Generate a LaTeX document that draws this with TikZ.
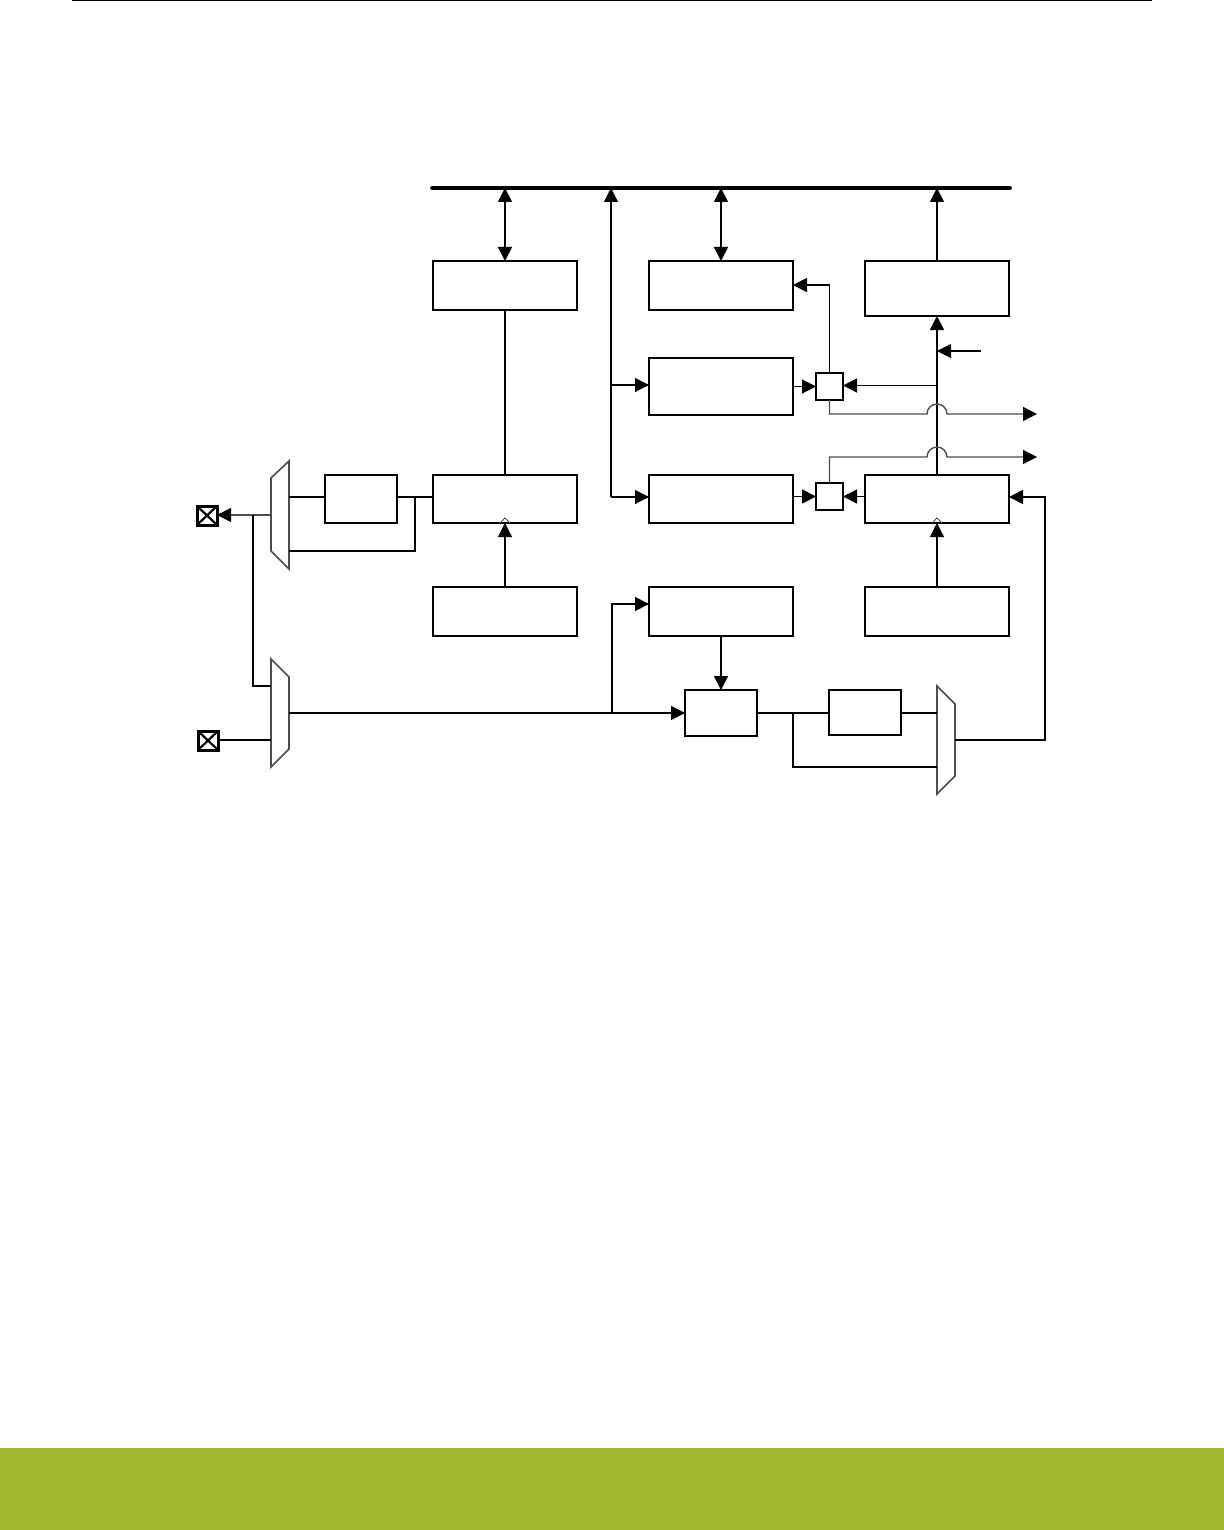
\documentclass[tikz,border=0pt]{standalone}
\usetikzlibrary{arrows.meta,calc}
\definecolor{bandgreen}{RGB}{161,185,46}
\tikzset{
  x=0.5pt,y=-0.5pt,
  boxn/.style={draw=black,fill=white,line width=0.75pt,inner sep=0pt,outer sep=0pt,rectangle},
  link/.style={draw=black,line width=0.85pt},
  finelink/.style={draw=black,line width=0.55pt},
  thinlink/.style={draw=black!70,line width=0.7pt},
  tip/.style={-{Triangle[length=7pt,width=7pt,color=black,fill=black]}},
  dbl/.style={{Triangle[length=7pt,width=7pt,color=black,fill=black]}-{Triangle[length=7pt,width=7pt,color=black,fill=black]}},
  muxn/.style={draw=black!70,fill=white,line width=0.8pt,line join=miter},
}
\newcommand{\blk}[5]{\node[boxn,minimum width={(#4-#2)*0.5pt},minimum height={(#5-#3)*0.5pt}] (#1) at ({(#2+#4)/2},{(#3+#5)/2}) {};}
\begin{document}
\begin{tikzpicture}
\useasboundingbox (0,0) rectangle (1224,1530);
% page furniture
\fill[bandgreen] (0,1448) rectangle (1224,1530);
\draw[line width=0.75pt] (72,0.5) -- (1152,0.5);
% bus
\coordinate (busL) at (432.5,188);
\coordinate (busR) at (1009.5,188);
\draw[line width=2.4pt,line cap=round] (busL) -- (busR);
% blocks
\blk{A}{433}{261}{577}{310}
\blk{B}{649}{261}{793}{310}
\blk{C}{865}{261}{1009}{316}
\blk{D}{649}{358}{793}{415}
\blk{E}{649}{475}{793}{523}
\blk{F}{433}{475}{577}{523}
\blk{G}{865}{475}{1009}{523}
\blk{H}{433}{587}{577}{636}
\blk{I}{649}{587}{793}{636}
\blk{J}{865}{587}{1009}{636}
\blk{K}{325}{475}{397}{523}
\blk{L}{685}{690}{757}{736}
\blk{M}{829}{690}{901}{735}
\blk{SA}{816}{373}{843}{400}
\blk{SB}{816}{483}{843}{510}
% pads
\blk{PA}{197}{506}{217}{525}
\blk{PB}{198}{731}{218}{750}
\foreach \p in {PA,PB}{
  \draw[line width=1.5pt] (\p.north west) rectangle (\p.south east);
  \draw[line width=1.1pt] (\p.north west) -- (\p.south east) (\p.north east) -- (\p.south west);
}
% muxes
\draw[muxn] (271,478) -- (289,461) -- (289,569) -- (271,551) -- cycle;
\draw[muxn] (271,659) -- (289,677) -- (289,749) -- (271,767) -- cycle;
\draw[muxn] (937,686) -- (955,704) -- (955,776) -- (937,794) -- cycle;
\coordinate (m1out) at (271,515);
\coordinate (m1a) at (289,497);
\coordinate (m1b) at (289,551);
\coordinate (m2a) at (271,686);
\coordinate (m2b) at (271,740);
\coordinate (m2out) at (289,713);
\coordinate (m3a) at (937,713);
\coordinate (m3b) at (937,767);
\coordinate (m3out) at (955,740);
% bus links
\draw[link,dbl] (A.north) -- (A.north |- busL);
\draw[link,dbl] (B.north) -- (B.north |- busL);
\draw[link,tip] (C.north) -- (C.north |- busL);
% distribution line
\coordinate (tapE) at (611,497);
\coordinate (tapD) at (611,385);
\draw[finelink,tip] (tapE) -- (tapE |- busL);
\draw[finelink,tip] (tapD) -- (tapD -| D.west);
\draw[finelink,tip] (tapE) -- (tapE -| E.west);
% A to F
\draw[finelink] (A.south) -- (F.north);
% right column
\draw[link,tip] (G.north) -- (C.south);
\coordinate (tapS) at (937,385.5);
\draw[link,tip] (tapS) -- (tapS -| SA.east);
\coordinate (ext) at (981,351);
\draw[finelink,tip] (ext) -- (ext -| G.north);
% switch links
\draw[link,tip] (SA.north) |- (B.east |- 0,285);
\draw[finelink,tip] (D.east |- SA.west) -- (SA.west);
\draw[link,tip] (E.east |- SB.west) -- (SB.west);
\draw[link,tip] (G.west |- SB.east) -- (SB.east);
\coordinate (outA) at (1037,414);
\coordinate (outB) at (1037,457);
\draw[thinlink,tip] (SA.south) -- (SA.south |- outA) -- (927,414) arc[start angle=180,end angle=360,radius=10] -- (outA);
\draw[thinlink,tip] (SB.north) -- (SB.north |- outB) -- (927,457) arc[start angle=180,end angle=360,radius=10] -- (outB);
% clock inputs
\draw[finelink,tip] (H.north) -- (F.south);
\draw[finelink,tip] (J.north) -- (G.south);
\draw[thinlink,line width=0.4pt] ($(F.south)+(-5,0)$) -- ($(F.south)+(0,-5)$) -- ($(F.south)+(5,0)$);
\draw[thinlink,line width=0.4pt] ($(G.south)+(-5,0)$) -- ($(G.south)+(0,-5)$) -- ($(G.south)+(5,0)$);
% lower chain
\draw[link,tip] (I.south -| L.north) -- (L.north);
\draw[link,tip] (m2out) -- (L.west |- m2out);
\coordinate (tapI) at (612,713);
\coordinate (inI) at (649,604);
\draw[link,tip] (tapI) |- (inI);
\draw[link] (L.east |- m3a) -- (M.west |- m3a);
\draw[link] (M.east |- m3a) -- (m3a);
\coordinate (tapM) at (793,713);
\draw[link] (tapM) |- (m3b);
\coordinate (rightup) at (1045,497);
\draw[link,tip] (m3out) -| (rightup) -- (G.east |- rightup);
% left chain
\draw[link] (m1a) -- (K.west |- m1a);
\draw[link] (K.east |- m1a) -- (F.west |- m1a);
\coordinate (tapK) at (415,497);
\draw[link] (tapK) |- (m1b);
\draw[thinlink,tip] (m1out) -- (PA.east |- m1out);
\coordinate (tapP) at (253,515);
\draw[link] (tapP) |- (m2a);
\draw[link] (PB.east |- m2b) -- (m2b);
\end{tikzpicture}
\end{document}
